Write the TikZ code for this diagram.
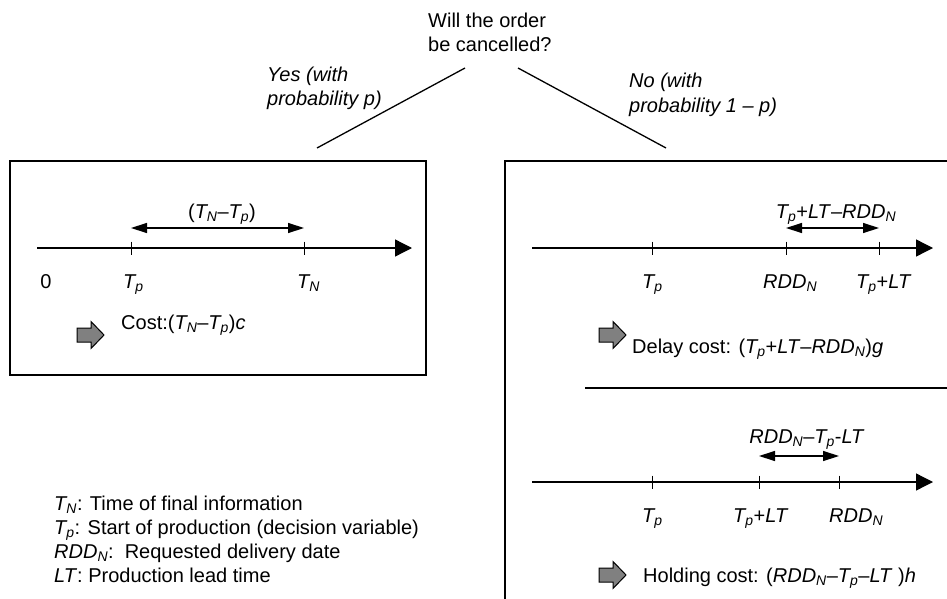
\documentclass[tikz,border=0pt]{standalone}
\usepackage{fontspec}
\setmainfont{Liberation Sans}
\usetikzlibrary{positioning, arrows.meta}
\definecolor{arrowgray}{gray}{0.5}
\newcommand{\Tp}{\textit{T\textsubscript{p}}}
\newcommand{\TN}{\textit{T\textsubscript{N}}}
\newcommand{\RDDN}{\textit{RDD\textsubscript{N}}}
\newcommand{\LT}{\textit{LT}}
\def\costarrow(#1,#2){\draw[line width=1pt, fill=arrowgray] (#1,#2) ++(0,-7) -- ++(14,0) -- ++(0,-6.5) -- ++(13,13.5) -- ++(-13,13.5) -- ++(0,-6.5) -- ++(-14,0) -- cycle;}
\tikzstyle{box} = [line width=1.5pt]
\tikzstyle{axis} = [line width=1.3pt, -{Triangle[length=17pt,width=17pt]}]
\tikzstyle{span} = [line width=1.3pt, {Triangle[length=16pt,width=10pt]}-{Triangle[length=16pt,width=10pt]}]
\tikzstyle{tickmark} = [line width=1pt]
\tikzstyle{lbl} = [inner sep=0pt, anchor=base west]
\tikzstyle{branch} = [line width=1.3pt]

\begin{document}
\begin{tikzpicture}[x=1pt, y=-1pt, every node/.style={font=\fontsize{20}{24}\selectfont}]
      \useasboundingbox (0,0) rectangle (947,599);
      \clip (0,0) rectangle (947,599);
      % question and branches
      \node[lbl] (q1) at (428,28) {Will the order};
      \node[lbl] (q2) at (428,52) {be cancelled?};
      \coordinate (yesTop) at (465,68);
      \coordinate (yesEnd) at (317,148);
      \coordinate (noTop) at (518,68);
      \coordinate (noEnd) at (666,148);
      \draw[branch] (yesTop)--(yesEnd);
      \draw[branch] (noTop)--(noEnd);
      \node[lbl] (yes1) at (267,82) {\textit{Yes (with}};
      \node[lbl] (yes2) at (267,106) {\textit{probability p)}};
      \node[lbl] (no1) at (629,88) {\textit{No (with}};
      \node[lbl] (no2) at (629,113) {\textit{probability 1 -- p)}};
      % left box: cancelled
      \draw[box] (10,161) rectangle (426,375);
      \coordinate (c0) at (37,248);
      \coordinate (cEnd) at (412,248);
      \coordinate (cTp) at (131,248);
      \coordinate (cTN) at (304,248);
      \draw[axis] (c0)--(cEnd);
      \draw[tickmark] (cTp) ++(0,-6.5) -- ++(0,13);
      \draw[tickmark] (cTN) ++(0,-6.5) -- ++(0,13);
      \coordinate (cs1) at (131,228);
      \coordinate (cs2) at (304,228);
      \draw[span] (cs1)--(cs2);
      \node[inner sep=0pt, anchor=base] (cSpan) at (222,218) {(\TN--\Tp)};
      \node[inner sep=0pt, anchor=base] (cZero) at (46,288) {0};
      \node[lbl] (cTpL) at (123,288) {\Tp};
      \node[lbl] (cTNL) at (297,288) {\TN};
      \costarrow(77,335)
      \node[lbl] (cCost) at (121,329) {Cost:(\TN--\Tp)\textit{c}};
      % right box: not cancelled
      \draw[box] (505,161) rectangle (990,650);
      \draw[box] (585,388) -- (990,388);
      % delay case
      \coordinate (d0) at (532,248);
      \coordinate (dEnd) at (933,248);
      \coordinate (dTp) at (652,248);
      \coordinate (dRDD) at (786,248);
      \coordinate (dTpLT) at (879,248);
      \draw[axis] (d0)--(dEnd);
      \draw[tickmark] (dTp) ++(0,-6.5) -- ++(0,13);
      \draw[tickmark] (dRDD) ++(0,-6.5) -- ++(0,13);
      \draw[tickmark] (dTpLT) ++(0,-6.5) -- ++(0,13);
      \coordinate (ds1) at (786,228);
      \coordinate (ds2) at (879,228);
      \draw[span] (ds1)--(ds2);
      \node[inner sep=0pt, anchor=base] (dSpan) at (836,218) {\Tp+\LT--\RDDN};
      \node[lbl] (dTpL) at (642,288) {\Tp};
      \node[lbl] (dRDDL) at (763,288) {\RDDN};
      \node[lbl] (dTpLTL) at (856,288) {\Tp+\LT};
      \costarrow(599,335)
      \node[lbl] (dCost) at (632,353) {Delay cost: (\Tp+\LT--\RDDN)\textit{g}};
      % holding case
      \coordinate (h0) at (532,482);
      \coordinate (hEnd) at (933,482);
      \coordinate (hTp) at (652,482);
      \coordinate (hTpLT) at (759,482);
      \coordinate (hRDD) at (839,482);
      \draw[axis] (h0)--(hEnd);
      \draw[tickmark] (hTp) ++(0,-6.5) -- ++(0,13);
      \draw[tickmark] (hTpLT) ++(0,-6.5) -- ++(0,13);
      \draw[tickmark] (hRDD) ++(0,-6.5) -- ++(0,13);
      \coordinate (hs1) at (759,456);
      \coordinate (hs2) at (839,456);
      \draw[span] (hs1)--(hs2);
      \node[inner sep=0pt, anchor=base] (hSpan) at (807,443) {\RDDN--\Tp-\LT};
      \node[lbl] (hTpL) at (642,522) {\Tp};
      \node[lbl] (hTpLTL) at (733,522) {\Tp+\LT};
      \node[lbl] (hRDDL) at (829,522) {\RDDN};
      \costarrow(599,575)
      \node[lbl] (hCost) at (643,582) {Holding cost: (\RDDN--\Tp--\LT\ )\textit{h}};
      % legend
      \node[lbl] (leg1) at (54,510) {\TN: Time of final information};
      \node[lbl] (leg2) at (54,534) {\Tp: Start of production (decision variable)};
      \node[lbl] (leg3) at (54,558) {\RDDN:\ \ Requested delivery date};
      \node[lbl] (leg4) at (54,582) {\LT: Production lead time};
\end{tikzpicture}
\end{document}
